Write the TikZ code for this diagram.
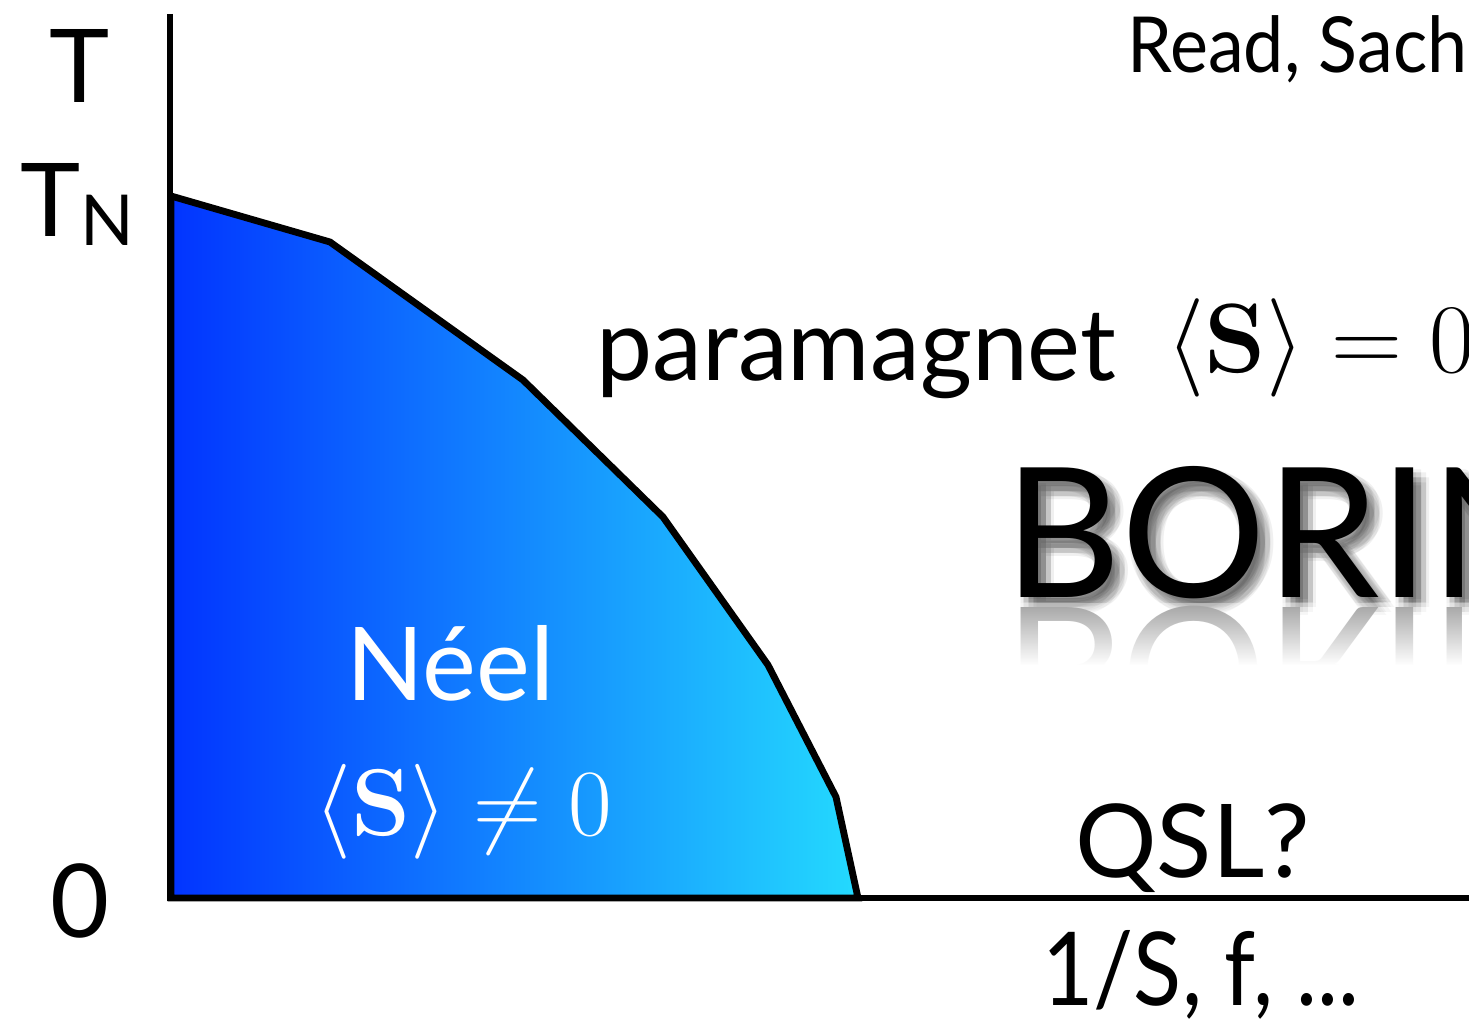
\RequirePackage{fix-cm}
\documentclass[tikz,border=0pt]{standalone}
\usepackage{amsmath}
\usepackage[no-math]{fontspec}
\setmainfont{Lato}
\usepackage{tikz}
\usetikzlibrary{fadings}
\definecolor{neelblue}{RGB}{2,52,255}
\definecolor{neelcyan}{RGB}{36,218,254}
\tikzfading[name=reflfade, top color=transparent!65, bottom color=transparent!0]

\begin{document}
\begin{tikzpicture}[x=0.02cm, y=-0.02cm,
  lbl/.style={inner sep=0pt, anchor=base west},
  axisline/.style={line width=3.4pt},
  big/.style={font=\fontsize{58}{58}\selectfont},
  boringtxt/.style={lbl, font=\fontsize{103}{103}\selectfont}]
  \useasboundingbox (0,0) rectangle (1469,1020);
  \fill[white] (0,0) rectangle (1469,1020);
  \clip (0,0) rectangle (1469,1020);
  \coordinate (origin) at (170,898);
  \coordinate (ytop) at (170,14);
  \coordinate (xend) at (1469,898);
  % Neel region
  \draw[line width=3.9pt, left color=neelblue, right color=neelcyan]
    (171,196) -- (330,242) -- (523,380) -- (663,517) -- (768,665) -- (836,797) -- (858,898) -- (171,898) -- cycle;
  % axes
  \draw[axisline] (ytop) -- (origin) -- (xend);
  \node[lbl, big, anchor=base] (tlabel) at (80,103) {T};
  \node[lbl, big] (tnlabel) at (20,237) {T\raisebox{-5.1pt}{\fontsize{40}{40}\selectfont N}};
  \node[lbl, big, anchor=base] (zero) at (80,937) {0};
  \node[lbl, font=\fontsize{44}{44}\selectfont] (refs) at (1127,73) {\scalebox{0.93}[1]{Read, Sach}};
  \node[lbl, font=\fontsize{57}{57}\selectfont] (para) at (596,380) {paramagnet};
  \node[lbl, font=\fontsize{56}{56}\selectfont] (paraeq) at (1166,372) {$\langle\mathbf{S}\rangle = 0$};
  % BORING, shadow and reflection
  \foreach \dx/\dy [count=\k] in {-5/-5,0/-5,5/-5,-5/0,0/0,5/0,-5/5,0/5,5/5,-8/0,8/0,0/-8,0/8}
    \node[boringtxt, text=black, opacity=0.06] (shd\k) at (1012+\dx,607+\dy) {BORIN};
  \node[boringtxt] (boring) at (1004,597) {BORIN};
  \node[boringtxt, text=black!55] (boringrefl) at (1004,607) {\scalebox{1}[-1]{BORIN}};
  \fill[white, path fading=reflfade] (990,603) rectangle (1469,665);
  \fill[white] (990,665) rectangle (1469,760);
  % phase labels
  \node[lbl, big, text=white] (neel) at (346,700) {Néel};
  \node[lbl, text=white, font=\fontsize{54}{54}\selectfont] (neeleq) at (314,835) {$\langle\mathbf{S}\rangle \neq 0$};
  \node[lbl, big] (qsl) at (1075,877) {QSL?};
  \node[lbl, big] (xlabel) at (1042,1005) {\scalebox{0.87}[1]{1/S, f, ...}};
\end{tikzpicture}
\end{document}
